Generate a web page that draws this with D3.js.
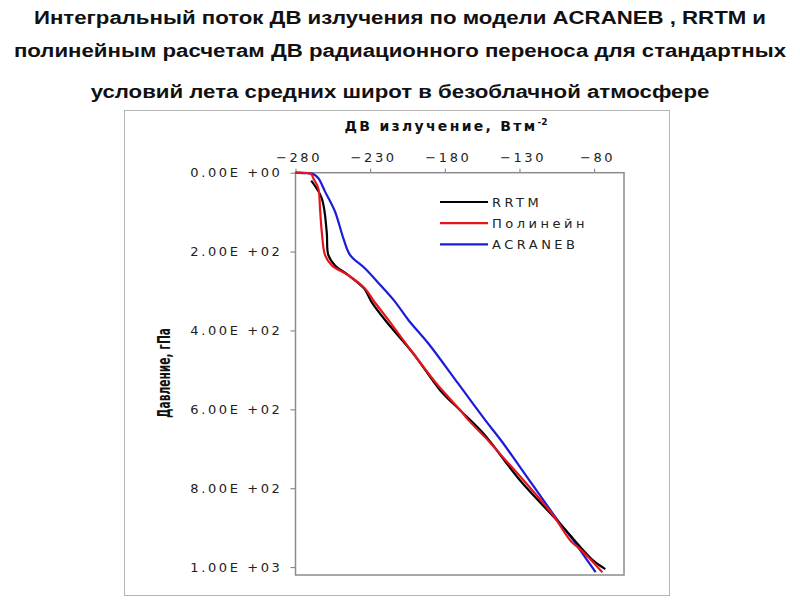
<!DOCTYPE html>
<html>
<head>
<meta charset="utf-8">
<script src="https://cdn.jsdelivr.net/npm/d3@7"></script>
<style>
  body { margin: 0; background: #fff; }
  svg { display: block; }
</style>
</head>
<body>
<div id="chart"></div>
<script>
// title lines
const titleLines = [
  "Интегральный поток ДВ излучения по модели ACRANEB , RRTM  и",
  "полинейным расчетам ДВ радиационного переноса для стандартных",
  "условий лета средних широт в безоблачной атмосфере"
];

// axes
const xTicks = [-280, -230, -180, -130, -80];
const yTicks = [0, 200, 400, 600, 800, 1000];
const yTickLabels = ["0.00E +00", "2.00E +02", "4.00E +02", "6.00E +02", "8.00E +02", "1.00E +03"];

// series: pressure (hPa) and flux (W/m2)
const seriesNames = ["RRTM", "Полинейн", "ACRANEB"];
const seriesColors = ["#000000", "#e8141c", "#1c1cd8"];

const rrtmP = [20, 65, 150, 209, 235, 260, 294, 328, 374, 459, 552, 603, 662, 781, 891, 950, 985, 1005];
const rrtmF = [-269.5, -262.4, -259.1, -258, -253.5, -244.6, -234, -229, -219.9, -201, -183, -169.6, -154, -129.4, -102.5, -89, -80.1, -72.5];

const polyP = [0, 3, 14, 40, 90, 150, 209, 235, 260, 294, 324, 374, 425, 535, 603, 628, 679, 713, 866, 933, 959, 1013];
const polyF = [-280, -269.6, -268.1, -264.7, -263.6, -262.4, -260.2, -255.7, -244.6, -233.4, -227.8, -217.7, -207.7, -185.5, -169.4, -164, -151, -143, -108, -95.8, -88, -74.5];

const acraP = [0, 1, 3, 14, 48, 99, 167, 209, 243, 285, 325, 374, 433, 535, 628, 679, 747, 891, 933, 950, 1013];
const acraF = [-280, -275, -268.5, -264.7, -260.2, -253.5, -247.9, -243.4, -233.4, -223.2, -213.8, -204.3, -191, -171, -152.8, -142.3, -129.5, -102.5, -93.6, -90.6, -79];

const seriesP = [rrtmP, polyP, acraP];
const seriesF = [rrtmF, polyF, acraF];

const width = 800, height = 600;
const svg = d3.select("#chart").append("svg")
  .attr("width", width)
  .attr("height", height);

// title (the slide is stretched sideways, so the text is too)
svg.append("g")
  .attr("transform", `translate(${width / 2},0) scale(1.17,1)`)
  .selectAll("text")
  .data(titleLines)
  .join("text")
    .attr("x", 0)
    .attr("y", (d, i) => [24, 57, 98][i])
    .attr("text-anchor", "middle")
    .attr("font-family", "'Liberation Sans', Arial, sans-serif")
    .attr("font-weight", "bold")
    .attr("font-size", 19)
    .attr("fill", "#111")
    .text(d => d);

// chart panel
svg.append("rect")
  .attr("x", 124.5).attr("y", 110.5)
  .attr("width", 545).attr("height", 485)
  .attr("fill", "#fff")
  .attr("stroke", "#b5b5b5");

const plot = { left: 295.5, top: 172.7, right: 624, bottom: 575 };

const x = d3.scaleLinear().domain([-280, -60]).range([plot.left, plot.right]);
const y = d3.scaleLinear().domain([0, 1020]).range([plot.top, plot.bottom]);

// x axis on top
const xAxis = svg.append("g")
  .attr("transform", `translate(0,${plot.top})`)
  .call(d3.axisTop(x).tickValues(xTicks).tickSize(4).tickPadding(7).tickFormat(d3.format("d")));

// y axis
const yAxis = svg.append("g")
  .attr("transform", `translate(${plot.left},0)`)
  .call(d3.axisLeft(y).tickValues(yTicks).tickSize(5).tickPadding(8)
    .tickFormat((d, i) => yTickLabels[i]));

[xAxis, yAxis].forEach(a => {
  a.select(".domain").remove();
  a.selectAll(".tick line").attr("stroke", "#777");
  a.selectAll(".tick text")
    .attr("font-family", "'DejaVu Sans', Verdana, sans-serif")
    .attr("font-size", 13)
    .attr("letter-spacing", 2.6)
    .attr("fill", "#222");
});
xAxis.selectAll(".tick text").attr("dx", 3);

// plot frame
svg.append("rect")
  .attr("x", plot.left).attr("y", plot.top)
  .attr("width", plot.right - plot.left).attr("height", plot.bottom - plot.top)
  .attr("fill", "none")
  .attr("stroke", "#8c8c8c")
  .attr("stroke-width", 1.5);

// lines
const line = d3.line()
  .x(d => x(d[1]))
  .y(d => y(d[0]))
  .curve(d3.curveCatmullRom.alpha(0.5));

const order = [0, 1, 2];
svg.append("g").selectAll("path")
  .data([2, 0, 1])
  .join("path")
    .attr("d", i => line(d3.zip(seriesP[i], seriesF[i])))
    .attr("fill", "none")
    .attr("stroke", i => seriesColors[i])
    .attr("stroke-width", 2.2)
    .attr("stroke-linejoin", "round");

// legend
const legend = svg.append("g").attr("transform", "translate(440,202)");
const rows = legend.selectAll("g")
  .data(order)
  .join("g")
    .attr("transform", (d, i) => `translate(0,${i * 21.2})`);
rows.append("line")
  .attr("x1", 0).attr("x2", 48)
  .attr("stroke", i => seriesColors[i])
  .attr("stroke-width", 2.2);
rows.append("text")
  .attr("x", 52)
  .attr("dy", "0.36em")
  .attr("font-family", "'DejaVu Sans', Verdana, sans-serif")
  .attr("font-size", 13)
  .attr("letter-spacing", 3.5)
  .attr("fill", "#222")
  .text(i => seriesNames[i]);

// x axis title
const xt = svg.append("text")
  .attr("x", 446)
  .attr("y", 131)
  .attr("text-anchor", "middle")
  .attr("font-family", "'DejaVu Sans', Verdana, sans-serif")
  .attr("font-weight", "bold")
  .attr("font-size", 14)
  .attr("letter-spacing", 2.3)
  .attr("fill", "#111");
xt.append("tspan").text("ДВ излучение, Втм");
xt.append("tspan").attr("font-size", 9).attr("dy", -6).attr("letter-spacing", 0).text("-2");

// y axis title
svg.append("text")
  .attr("transform", "translate(170,373) rotate(-90)")
  .attr("text-anchor", "middle")
  .attr("font-family", "'Liberation Sans Narrow', 'DejaVu Sans Condensed', sans-serif")
  .attr("font-weight", "bold")
  .attr("font-size", 17)
  .attr("textLength", 90)
  .attr("lengthAdjust", "spacingAndGlyphs")
  .attr("fill", "#111")
  .text("Давление, гПа");
</script>
</body>
</html>
